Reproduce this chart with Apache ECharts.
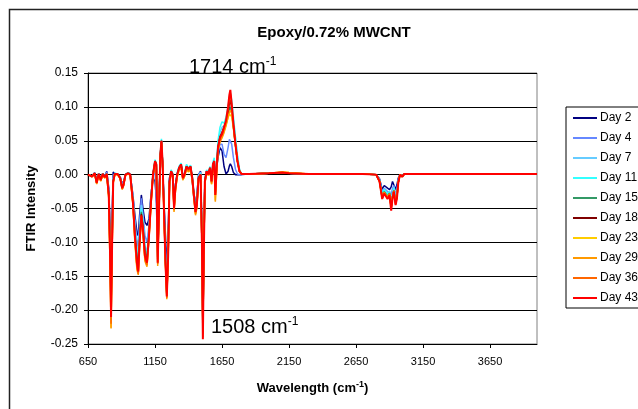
<!DOCTYPE html>
<html>
<head>
<meta charset="utf-8">
<script src="https://cdn.jsdelivr.net/npm/echarts@6/dist/echarts.min.js"></script>
<style>
html,body{margin:0;padding:0;background:#fff;}
#chart{width:638px;height:409px;}
</style>
</head>
<body>
<div id="chart"></div>
<script>
// ---- data ----
const wavenumbers = [650,680,700,715,730,745,760,775,790,805,
815,822,830,838,850,870,890,905,915,930,
950,965,985,1000,1015,1025,1035,1048,1060,1075,
1090,1105,1120,1135,1150,1160,1170,1180,1190,1198,
1206,1215,1228,1238,1248,1258,1270,1282,1292,1302,
1315,1330,1345,1358,1370,1385,1400,1415,1428,1440,
1452,1462,1475,1490,1500,1507,1514,1522,1535,1548,
1560,1572,1582,1592,1600,1610,1620,1635,1650,1665,
1680,1695,1705,1712,1722,1735,1750,1765,1780,1795,
1850,2000,2100,2150,2300,2500,2700,2800,2825,2845,
2860,2870,2885,2900,2912,2922,2932,2945,2955,2965,
2978,2995,3010,3300,3700,4000];

const seriesNames = ['Day 2','Day 4','Day 7','Day 11','Day 15','Day 18','Day 23','Day 29','Day 36','Day 43'];

const day2 = [0,-0.002,0.003,-0.008,0.002,-0.006,0.002,-0.003,0.005,-0.02,
-0.08,-0.15,-0.06,0.004,0.001,0.001,-0.003,-0.015,-0.01,0.0,
0.003,0.0,-0.03,-0.06,-0.085,-0.09,-0.06,-0.03,-0.05,-0.07,
-0.075,-0.065,-0.03,-0.005,-0.01,-0.01,-0.06,-0.03,0.02,0.04,
0.015,-0.03,-0.09,-0.14,-0.09,-0.005,0.005,0.0,-0.04,-0.015,
0.0,0.01,0.012,-0.005,0.0,0.01,0.006,0.01,-0.01,-0.035,
-0.04,-0.03,0.0,0.005,-0.08,-0.2,-0.1,-0.008,0.003,0.0,
0.008,-0.008,0.012,0.02,-0.02,0.01,0.025,0.04,0.035,0.012,
0.001,0.005,0.013,0.016,0.012,0.003,0.0,0.0,0.0,0.0,
0.001,0.002,0.002,0.002,0.001,0.001,0.001,0.0,-0.006,-0.022,
-0.016,-0.014,-0.02,-0.022,-0.018,-0.01,-0.012,-0.022,-0.015,-0.005,
0.0,-0.002,0.001,0.001,0.001,0.001];

const day4 = [0,-0.002,0.003,-0.009,0.002,-0.006,0.002,-0.003,0.004,-0.024,
-0.09,-0.17,-0.075,0.0,0.002,0.001,-0.003,-0.016,-0.011,0.0,
0.003,0.0,-0.032,-0.068,-0.098,-0.108,-0.07,-0.035,-0.058,-0.09,
-0.1,-0.075,-0.03,-0.002,0.005,0.003,-0.1,-0.04,0.025,0.045,
0.018,-0.032,-0.11,-0.155,-0.1,-0.006,0.006,0.001,-0.042,-0.015,
0.001,0.011,0.014,-0.004,0.001,0.012,0.008,0.011,-0.006,-0.03,
-0.045,-0.035,0.0,0.004,-0.085,-0.2,-0.1,-0.006,0.005,0.001,
0.01,-0.008,0.014,0.022,-0.018,0.012,0.03,0.045,0.045,0.03,
0.025,0.04,0.052,0.053,0.045,0.025,0.008,0.001,0.0,0.0,
0.001,0.002,0.002,0.002,0.001,0.001,0.001,0.0,-0.007,-0.026,
-0.02,-0.018,-0.025,-0.026,-0.03,-0.02,-0.016,-0.03,-0.022,-0.007,
0.0,-0.002,0.001,0.001,0.001,0.001];

const day7 = [0,-0.002,0.002,-0.01,0.001,-0.007,0.001,-0.003,0.002,-0.026,
-0.1,-0.18,-0.085,-0.006,0.002,0.001,-0.004,-0.017,-0.012,0.0,
0.003,0.0,-0.033,-0.075,-0.108,-0.118,-0.082,-0.045,-0.065,-0.105,
-0.115,-0.082,-0.033,0.001,0.018,0.014,-0.115,-0.043,0.03,0.05,
0.02,-0.033,-0.118,-0.17,-0.105,-0.007,0.006,0.001,-0.044,-0.016,
0.002,0.012,0.016,-0.003,0.002,0.014,0.01,0.013,-0.004,-0.028,
-0.05,-0.038,-0.002,0.003,-0.09,-0.215,-0.105,-0.007,0.006,0.002,
0.011,-0.008,0.016,0.022,-0.018,0.016,0.045,0.062,0.07,0.072,
0.078,0.09,0.098,0.1,0.095,0.08,0.055,0.028,0.008,0.001,
0.001,0.002,0.003,0.002,0.001,0.001,0.001,0.0,-0.008,-0.028,
-0.021,-0.022,-0.028,-0.024,-0.04,-0.027,-0.018,-0.036,-0.027,-0.009,
0.0,-0.002,0.001,0.001,0.001,0.001];

const day11 = [0,-0.002,0.002,-0.01,0.001,-0.007,0.001,-0.003,0.001,-0.028,
-0.11,-0.19,-0.09,-0.008,0.002,0.001,-0.004,-0.018,-0.013,0.0,
0.003,0.0,-0.035,-0.08,-0.115,-0.125,-0.088,-0.05,-0.07,-0.11,
-0.12,-0.085,-0.035,0.002,0.022,0.017,-0.12,-0.045,0.032,0.053,
0.022,-0.035,-0.125,-0.175,-0.11,-0.008,0.007,0.002,-0.045,-0.017,
0.002,0.012,0.017,-0.003,0.002,0.015,0.01,0.014,-0.003,-0.027,
-0.05,-0.04,-0.003,0.002,-0.09,-0.22,-0.11,-0.008,0.007,0.002,
0.012,-0.008,0.018,0.025,-0.02,0.02,0.05,0.07,0.078,0.076,
0.085,0.1,0.115,0.12,0.11,0.085,0.055,0.028,0.008,0.001,
0.001,0.002,0.003,0.002,0.001,0.001,0.001,0.0,-0.008,-0.03,
-0.022,-0.025,-0.03,-0.025,-0.045,-0.03,-0.02,-0.04,-0.03,-0.01,
0.0,-0.002,0.001,0.001,0.001,0.001];

const day15 = [0,-0.003,0.002,-0.011,0.001,-0.008,0.001,-0.004,0.001,-0.029,
-0.115,-0.195,-0.095,-0.01,0.001,0.001,-0.005,-0.019,-0.014,0.0,
0.002,0.0,-0.038,-0.087,-0.122,-0.134,-0.095,-0.055,-0.075,-0.115,
-0.125,-0.086,-0.038,0.001,0.02,0.015,-0.122,-0.048,0.03,0.05,
0.02,-0.038,-0.126,-0.176,-0.115,-0.009,0.005,0.0,-0.048,-0.019,
0.0,0.01,0.015,-0.004,0.0,0.012,0.008,0.012,-0.004,-0.029,
-0.053,-0.043,-0.004,0.0,-0.095,-0.23,-0.115,-0.01,0.005,0.0,
0.01,-0.01,0.015,0.02,-0.026,0.012,0.042,0.056,0.062,0.068,
0.075,0.088,0.097,0.1,0.092,0.07,0.044,0.02,0.005,0.001,
0.001,0.002,0.003,0.002,0.001,0.001,0.001,0.0,-0.009,-0.032,
-0.025,-0.027,-0.032,-0.027,-0.048,-0.032,-0.023,-0.041,-0.031,-0.011,
0.0,-0.003,0.001,0.001,0.001,0.001];

const day18 = [0,-0.003,0.002,-0.012,0.001,-0.008,0.001,-0.004,0.001,-0.03,
-0.12,-0.2,-0.1,-0.01,0.001,0.001,-0.005,-0.02,-0.015,0.0,
0.002,0.0,-0.04,-0.09,-0.125,-0.138,-0.098,-0.058,-0.078,-0.118,
-0.127,-0.088,-0.04,0.0,0.02,0.015,-0.125,-0.05,0.03,0.05,
0.02,-0.04,-0.128,-0.178,-0.118,-0.01,0.005,0.0,-0.05,-0.02,
0.0,0.01,0.015,-0.005,0.0,0.012,0.008,0.012,-0.005,-0.03,
-0.055,-0.045,-0.005,0.0,-0.1,-0.235,-0.12,-0.01,0.005,0.0,
0.01,-0.01,0.015,0.02,-0.028,0.01,0.04,0.055,0.062,0.07,
0.078,0.092,0.105,0.11,0.098,0.072,0.045,0.02,0.005,0.001,
0.001,0.002,0.003,0.002,0.001,0.001,0.001,0.0,-0.01,-0.034,
-0.026,-0.028,-0.034,-0.028,-0.05,-0.033,-0.024,-0.043,-0.033,-0.011,
0.0,-0.003,0.001,0.001,0.001,0.001];

const day23 = [0,-0.003,0.001,-0.013,0.0,-0.009,0.0,-0.005,0.0,-0.034,
-0.14,-0.226,-0.11,-0.012,0.0,0.0,-0.006,-0.021,-0.016,-0.001,
0.001,-0.001,-0.044,-0.098,-0.138,-0.146,-0.1,-0.062,-0.085,-0.125,
-0.134,-0.093,-0.044,-0.002,0.016,0.01,-0.13,-0.053,0.025,0.046,
0.016,-0.044,-0.13,-0.18,-0.122,-0.014,0.002,-0.004,-0.053,-0.024,
-0.004,0.007,0.01,-0.008,-0.003,0.008,0.004,0.008,-0.008,-0.034,
-0.058,-0.048,-0.008,-0.002,-0.1,-0.23,-0.12,-0.013,0.003,-0.001,
0.007,-0.014,0.011,0.015,-0.038,0.005,0.036,0.05,0.056,0.064,
0.074,0.084,0.089,0.09,0.086,0.068,0.044,0.02,0.006,0.001,
0.001,0.002,0.004,0.003,0.001,0.001,0.001,0.0,-0.01,-0.034,
-0.027,-0.029,-0.034,-0.029,-0.05,-0.033,-0.024,-0.043,-0.033,-0.011,
0.0,-0.003,0.001,0.001,0.001,0.001];

const day29 = [0,-0.003,0.001,-0.014,0.0,-0.01,0.0,-0.005,0.0,-0.035,
-0.14,-0.227,-0.11,-0.012,0.0,0.0,-0.006,-0.022,-0.017,-0.001,
0.001,-0.001,-0.045,-0.1,-0.14,-0.148,-0.105,-0.065,-0.088,-0.128,
-0.136,-0.095,-0.045,-0.002,0.016,0.01,-0.135,-0.055,0.025,0.045,
0.015,-0.045,-0.135,-0.184,-0.125,-0.015,0.002,-0.004,-0.055,-0.025,
-0.004,0.007,0.01,-0.008,-0.003,0.008,0.004,0.008,-0.008,-0.035,
-0.06,-0.05,-0.008,-0.002,-0.1,-0.235,-0.12,-0.013,0.003,-0.001,
0.007,-0.014,0.011,0.015,-0.04,0.005,0.035,0.048,0.054,0.062,
0.072,0.085,0.092,0.095,0.09,0.07,0.045,0.02,0.006,0.001,
0.001,0.002,0.004,0.003,0.001,0.001,0.001,0.0,-0.01,-0.033,
-0.026,-0.028,-0.033,-0.028,-0.048,-0.032,-0.024,-0.042,-0.032,-0.011,
0.0,-0.003,0.001,0.001,0.001,0.001];

const day36 = [0,-0.002,0.002,-0.013,0.001,-0.009,0.001,-0.004,0.001,-0.032,
-0.13,-0.22,-0.11,-0.012,0.001,0.001,-0.005,-0.021,-0.016,0.0,
0.002,0.0,-0.042,-0.095,-0.135,-0.146,-0.105,-0.062,-0.085,-0.125,
-0.133,-0.092,-0.042,0.0,0.018,0.013,-0.132,-0.05,0.028,0.048,
0.019,-0.042,-0.132,-0.182,-0.12,-0.012,0.004,-0.002,-0.052,-0.022,
-0.002,0.009,0.013,-0.006,-0.001,0.01,0.006,0.01,-0.006,-0.032,
-0.057,-0.047,-0.006,-0.001,-0.1,-0.24,-0.12,-0.012,0.004,0.0,
0.009,-0.012,0.013,0.018,-0.03,0.008,0.038,0.052,0.058,0.068,
0.078,0.097,0.113,0.12,0.102,0.074,0.045,0.02,0.005,0.001,
0.001,0.002,0.003,0.002,0.001,0.001,0.001,0.0,-0.01,-0.035,
-0.027,-0.03,-0.035,-0.03,-0.05,-0.034,-0.025,-0.044,-0.034,-0.012,
0.0,-0.003,0.001,0.001,0.001,0.001];

const day43 = [0,-0.003,0.002,-0.012,0.001,-0.008,0.001,-0.004,0.001,-0.03,
-0.12,-0.21,-0.1,-0.01,0.001,0.001,-0.005,-0.02,-0.015,0.0,
0.002,0.0,-0.04,-0.09,-0.13,-0.143,-0.1,-0.06,-0.08,-0.12,
-0.13,-0.09,-0.04,0.0,0.02,0.015,-0.13,-0.05,0.03,0.05,
0.02,-0.04,-0.13,-0.18,-0.12,-0.01,0.005,0.0,-0.05,-0.02,
0.0,0.01,0.015,-0.005,0.0,0.012,0.008,0.012,-0.005,-0.03,
-0.055,-0.045,-0.005,0.0,-0.1,-0.243,-0.12,-0.01,0.005,0.0,
0.01,-0.01,0.015,0.02,-0.03,0.01,0.04,0.055,0.06,0.07,
0.08,0.1,0.118,0.125,0.105,0.075,0.045,0.02,0.005,0.001,
0.001,0.002,0.003,0.002,0.001,0.001,0.001,0.0,-0.01,-0.036,
-0.028,-0.03,-0.036,-0.03,-0.053,-0.035,-0.025,-0.045,-0.035,-0.012,
0.0,-0.003,0.001,0.001,0.001,0.001];

const seriesValues = [day2, day4, day7, day11, day15, day18, day23, day29, day36, day43];
const seriesColors = ['#000080','#6688ff','#66ccff','#33ffff','#339966','#800000','#ffcc00','#ff9900','#ff6600','#ff0000'];

const xTicks = {min: 650, max: 4000, step: 500};
const yTicks = {min: -0.25, max: 0.15, step: 0.05};

// ---- chart ----
const FONT = 'Liberation Sans, Arial, sans-serif';
const chart = echarts.init(document.getElementById('chart'), null, {renderer: 'canvas'});

const series = seriesNames.map((name, i) => ({
  name: name,
  type: 'line',
  data: wavenumbers.map((w, j) => [w, seriesValues[i][j]]),
  showSymbol: false,
  symbol: 'none',
  lineStyle: {width: i === 9 ? 2 : 1.5, color: seriesColors[i]},
  itemStyle: {color: seriesColors[i]},
  color: seriesColors[i],
  emphasis: {disabled: true},
  z: 2 + i
}));

chart.setOption({
  animation: false,
  backgroundColor: '#ffffff',
  textStyle: {fontFamily: FONT},
  grid: {left: 88, top: 73, width: 449, height: 271, show: true, borderColor: '#808080', borderWidth: 1, backgroundColor: 'transparent'},
  xAxis: {
    type: 'value', min: xTicks.min, max: xTicks.max, interval: xTicks.step,
    name: '{b|Wavelength (cm}{s|-1}{b|)}',
    nameLocation: 'middle', nameGap: 36,
    nameTextStyle: {rich: {
      b: {fontFamily: FONT, fontSize: 13, fontWeight: 'bold', color: '#000', lineHeight: 16},
      s: {fontFamily: FONT, fontSize: 9, fontWeight: 'bold', color: '#000', verticalAlign: 'top', lineHeight: 10}
    }},
    axisLine: {show: true, onZero: false, lineStyle: {color: '#000', width: 1}},
    axisTick: {show: true, inside: false, length: 4, lineStyle: {color: '#000'}},
    axisLabel: {show: true, showMaxLabel: false, margin: 12, fontFamily: FONT, fontSize: 11, color: '#000', formatter: v => String(v)},
    splitLine: {show: false}
  },
  yAxis: {
    type: 'value', min: yTicks.min, max: yTicks.max, interval: yTicks.step,
    name: 'FTIR Intensity', nameLocation: 'middle', nameGap: 50,
    nameTextStyle: {fontFamily: FONT, fontSize: 13, fontWeight: 'bold', color: '#000'},
    axisLine: {show: true, onZero: false, lineStyle: {color: '#000', width: 1}},
    axisTick: {show: true, inside: false, length: 4, lineStyle: {color: '#000'}},
    axisLabel: {margin: 10, fontFamily: FONT, fontSize: 12, color: '#000', formatter: v => v.toFixed(2)},
    splitLine: {show: true, lineStyle: {color: '#000', width: 1}}
  },
  legend: {
    orient: 'vertical', left: 566, top: 107,
    padding: [4, 6, 3, 6], itemGap: 6, itemWidth: 24, itemHeight: 14,
    borderColor: '#000', borderWidth: 1, backgroundColor: '#fff',
    itemStyle: {opacity: 0},
    lineStyle: {width: 2},
    textStyle: {fontFamily: FONT, fontSize: 12, color: '#000', lineHeight: 14, padding: [0, 0, 0, -2]},
    data: seriesNames,
    selectedMode: false
  },
  series: series,
  graphic: [
    {type: 'rect', silent: true, z: -10, shape: {x: 9.5, y: 9.5, width: 700, height: 500}, style: {fill: 'none', stroke: '#222', lineWidth: 1.5}},
    {type: 'text', silent: true, z: 100, x: 334, y: 33,
      style: {text: 'Epoxy/0.72% MWCNT', fontFamily: FONT, fontSize: 15, fontWeight: 'bold', fill: '#000', align: 'center', verticalAlign: 'middle'}},
    {type: 'text', silent: true, z: 100, x: 189, y: 56,
      style: {text: '{a|1714 cm}{s|-1}', verticalAlign: 'top', rich: {
        a: {fontFamily: FONT, fontSize: 20, fill: '#000', lineHeight: 23},
        s: {fontFamily: FONT, fontSize: 12, fill: '#000', verticalAlign: 'top', lineHeight: 13}
      }}},
    {type: 'text', silent: true, z: 100, x: 211, y: 316,
      style: {text: '{a|1508 cm}{s|-1}', verticalAlign: 'top', rich: {
        a: {fontFamily: FONT, fontSize: 20, fill: '#000', lineHeight: 23},
        s: {fontFamily: FONT, fontSize: 12, fill: '#000', verticalAlign: 'top', lineHeight: 13}
      }}}
  ]
});
</script>
</body>
</html>
